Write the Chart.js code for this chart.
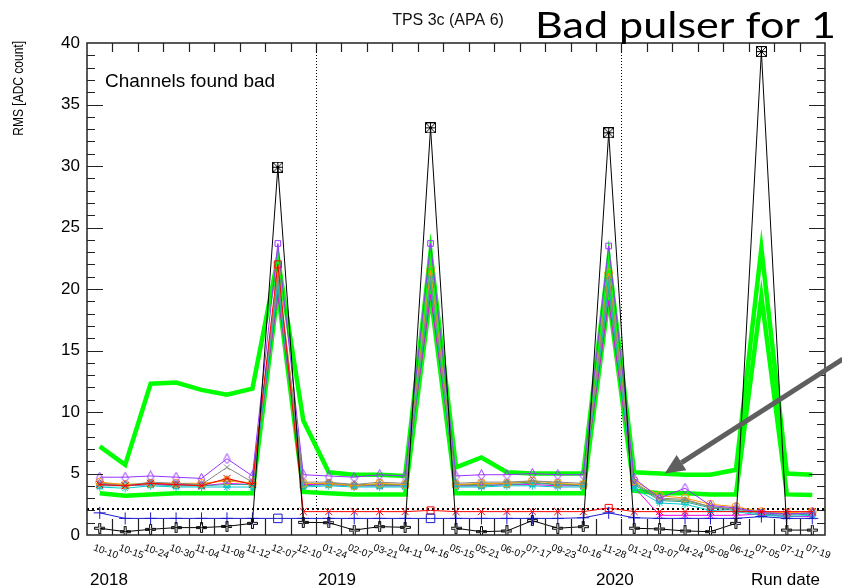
<!DOCTYPE html>
<html lang="en">
<head>
<meta charset="UTF-8">
<title>TPS 3c (APA 6) - Channels found bad</title>
<script src="https://cdn.jsdelivr.net/npm/chart.js"></script>
<style>
  body { margin: 0; background: #fff; }
  #wrap { width: 842px; height: 586px; }
</style>
</head>
<body>
<div id="wrap"><canvas id="rmsChart" width="842" height="586"></canvas></div>
<script>
// run dates (category axis)
const runDates = ['10-10','10-15','10-24','10-30','11-04','11-08','11-12','12-07','12-10',
                  '01-24','02-07','03-21','04-11','04-16','05-15','05-21','06-07','07-17','09-23','10-16','11-28',
                  '01-21','03-07','04-24','05-08','06-12','07-05','07-11','07-19'];
const yearLabels = ['2018', '2019', '2020'];
const yTicks = [0, 5, 10, 15, 20, 25, 30, 35, 40];

// RMS [ADC count] per channel
const blackRms   = [0.55,0.27,0.46,0.6,0.6,0.7,0.95, 29.9, 1.03,1.0,0.4,0.68,0.62, 33.1, 0.55,0.27,0.33,1.17,0.55,0.68, 32.7, 0.55,0.49,0.33,0.27,0.95, 39.3, 0.4,0.4];
const blueRms    = [1.8,1.35,1.35,1.35,1.35,1.35,1.35, 1.35, 1.35,1.35,1.35,1.35,1.35, 1.35, 1.35,1.35,1.35,1.35,1.35,1.4, 1.8, 1.4,1.35,1.35,1.35,1.35, 1.5, 1.35,1.35];
const redRms     = [4.1,4.0,4.2,4.1,4.0,4.6,4.1, 22.0, 1.9,1.9,1.9,1.9,1.9, 2.0, 1.9,1.9,1.9,1.9,1.9,1.9, 2.2, 1.9,1.9,1.9,1.9,1.9, 1.9, 1.9,1.9];
const purpleRms  = [4.7,4.7,4.8,4.7,4.6,6.2,4.8, 23.7, 4.9,4.8,4.7,4.9,4.8, 23.7, 4.8,4.9,4.9,5.0,4.9,4.9, 23.5, 4.6,3.0,3.8,2.4,2.2, 1.8, 1.7,1.8];
const grayRms    = [4.2,4.0,4.3,4.2,4.1,5.5,4.3, 21.0, 4.3,4.3,4.1,4.3,4.2, 21.0, 4.2,4.3,4.3,4.4,4.3,4.2, 21.0, 4.3,3.0,2.9,2.3,2.1, 1.9, 1.7,1.8];
const orangeRms  = [4.3,4.1,4.2,4.2,4.2,4.4,4.2, 21.5, 4.2,4.2,4.0,4.2,4.1, 21.5, 4.1,4.2,4.2,4.4,4.2,4.1, 21.3, 4.4,3.2,3.0,2.5,2.3, 1.9, 1.8,1.9];
const cyanRms    = [3.9,3.8,4.0,3.9,3.9,3.9,3.9, 20.5, 3.9,4.0,3.9,3.9,3.9, 20.8, 3.9,3.9,4.0,4.0,3.9,3.9, 20.5, 3.8,2.6,2.5,2.0,1.9, 1.6, 1.5,1.6];
const tealRms    = [4.0,4.0,4.1,4.0,4.0,4.1,4.1, 20.0, 4.0,4.1,4.0,4.0,4.0, 20.3, 4.0,4.0,4.1,4.2,4.1,4.0, 20.0, 4.1,2.8,2.7,2.2,2.0, 1.7, 1.6,1.7];
const magentaRms = [4.1,4.0,4.1,4.1,4.0,4.2,4.1, 19.5, 4.1,4.1,4.0,4.0,4.0, 19.5, 4.0,4.0,4.1,4.1,4.0,4.0, 19.0, 3.9,1.6,1.6,1.6,1.6, 1.7, 1.5,1.5];
const olivRms    = [4.2,4.1,4.2,4.1,4.1,4.5,4.2, 20.8, 4.1,4.2,4.1,4.1,4.1, 21.0, 4.1,4.1,4.2,4.3,4.1,4.1, 20.8, 4.2,2.9,2.8,2.3,2.1, 1.8, 1.7,1.8];
const greenHiRms = [7.2,5.7,12.3,12.4,11.8,11.4,11.9, 22.5, 9.3,5.1,4.9,4.9,4.8, 23.0, 5.5,6.3,5.1,5.0,5.0,5.0, 22.5, 5.1,5.0,4.9,4.9,5.3, 23.3, 5.0,4.9];
const greenLoRms = [3.4,3.2,3.3,3.4,3.4,3.4,3.4, 19.8, 3.5,3.4,3.3,3.3,3.3, 19.5, 3.4,3.4,3.4,3.4,3.4,3.4, 19.3, 3.6,3.4,3.4,3.3,3.3, 19.4, 3.3,3.25];

const badThreshold = 2.1;
const yearBreaks = [8.5, 20.5];
const yearPos = [-0.38, 8.58, 19.5];      // category position of each year label
const runDatePos = 28.3;
const arrowFrom = [29.2, 14.3];           // [category, RMS]
const arrowTo = [22.2, 5.0];

const FONT = '"Liberation Sans", Arial, Helvetica, sans-serif';

// ROOT-like open markers drawn on small canvases
function marker(kind, color, s) {
  const c = document.createElement('canvas');
  c.width = c.height = s;
  const g = c.getContext('2d');
  g.strokeStyle = color;
  g.lineWidth = 1;
  const m = s - 0.5, a = Math.round(s * 0.35) + 0.5, b = s - a;
  g.beginPath();
  if (kind === 'cross') {
    g.moveTo(a, 0.5); g.lineTo(b, 0.5); g.lineTo(b, a); g.lineTo(m, a); g.lineTo(m, b); g.lineTo(b, b);
    g.lineTo(b, m); g.lineTo(a, m); g.lineTo(a, b); g.lineTo(0.5, b); g.lineTo(0.5, a); g.lineTo(a, a);
    g.closePath();
  } else if (kind === 'boxx') {
    g.rect(0.5, 0.5, s - 1, s - 1);
    g.moveTo(0.5, 0.5); g.lineTo(m, m); g.moveTo(m, 0.5); g.lineTo(0.5, m);
    g.moveTo(s / 2, 0.5); g.lineTo(s / 2, m); g.moveTo(0.5, s / 2); g.lineTo(m, s / 2);
  } else if (kind === 'diamond') {
    g.moveTo(s / 2, 0.5); g.lineTo(s * 0.8, s * 0.6); g.lineTo(s / 2, m); g.lineTo(s * 0.2, s * 0.6);
    g.closePath();
  }
  g.stroke();
  return c;
}

// peak points (bad pulser) get a square marker
function styles(data, normal, peak) {
  return data.map(v => (v > 15 ? peak : normal));
}

function series(label, data, color, pointStyle, extra) {
  return Object.assign({
    label, data,
    borderColor: color, borderWidth: 1,
    pointStyle, pointRadius: 4,
    pointBorderColor: color, pointBackgroundColor: 'rgba(0,0,0,0)', pointBorderWidth: 1,
    tension: 0
  }, extra || {});
}

const datasets = [
  series('ch black', blackRms, '#000000', styles(blackRms, marker('cross', '#000', 11), marker('boxx', '#000', 11))),
  series('ch blue', blueRms, '#1a1acc', blueRms.map((v, i) => (i === 7 || i === 13) ? 'rect' : 'cross'), {pointRadius: 6}),
  series('ch red', redRms, '#ff0000', redRms.map((v, i) => (i === 7 || i === 13 || i === 20) ? 'rect' : 'crossRot'), {pointRadius: 5}),
  series('ch violet', purpleRms, '#9933ff', styles(purpleRms, marker('diamond', '#9933ff', 11), 'rect').map((s, i) => i === 26 ? 'rect' : s)),
  series('ch gray', grayRms, '#888888', 'crossRot'),
  series('ch orange', orangeRms, '#ff9900', 'circle'),
  series('ch cyan', cyanRms, '#00cccc', 'star'),
  series('ch teal', tealRms, '#2a9d9d', 'rect'),
  series('ch magenta', magentaRms, '#ee00ee', 'crossRot'),
  series('ch olive', olivRms, '#669933', 'triangle'),
  series('ch green a', greenHiRms, '#00ff00', 'circle', {borderWidth: 4.5, pointRadius: 0}),
  series('ch green b', greenLoRms, '#00ff00', 'circle', {borderWidth: 4.5, pointRadius: 0})
];

const rootStyle = {
  id: 'rootStyle',
  beforeDatasetsDraw(chart) {
    const {ctx, chartArea: a, scales: {x, y}} = chart;
    ctx.save();
    ctx.strokeStyle = '#000';
    ctx.lineWidth = 1;
    ctx.setLineDash([1, 2]);
    yearBreaks.forEach(v => {
      const px = Math.round(x.getPixelForValue(v)) + 0.5;
      ctx.beginPath(); ctx.moveTo(px, a.top); ctx.lineTo(px, a.bottom); ctx.stroke();
    });
    ctx.lineWidth = 1.8;
    ctx.setLineDash([2, 3]);
    const py = Math.round(y.getPixelForValue(badThreshold));
    ctx.beginPath(); ctx.moveTo(a.left, py); ctx.lineTo(a.right, py); ctx.stroke();
    ctx.restore();
  },
  afterDraw(chart) {
    const {ctx, chartArea: a, scales: {x, y}} = chart;
    ctx.save();
    // frame + ticks (inside, ROOT style)
    ctx.strokeStyle = '#222';
    ctx.lineWidth = 1.5;
    ctx.strokeRect(a.left, a.top, a.right - a.left, a.bottom - a.top);
    ctx.lineWidth = 1.2;
    ctx.beginPath();
    for (let v = 1; v < 40; v++) {
      const py = Math.round(y.getPixelForValue(v)) + 0.5;
      const len = v % 5 === 0 ? 16 : 8;
      ctx.moveTo(a.left, py); ctx.lineTo(a.left + len, py);
      ctx.moveTo(a.right, py); ctx.lineTo(a.right - len, py);
    }
    for (let i = 1; i < runDates.length; i++) {
      const px = Math.round(x.getPixelForValue(i - 0.5)) + 0.5;
      ctx.moveTo(px, a.bottom); ctx.lineTo(px, a.bottom - 16);
      ctx.moveTo(px, a.top); ctx.lineTo(px, a.top + 9);
    }
    ctx.stroke();

    // rotated run-date labels
    ctx.fillStyle = '#000';
    ctx.font = '10px ' + FONT;
    ctx.textAlign = 'left';
    ctx.textBaseline = 'alphabetic';
    runDates.forEach((lab, i) => {
      ctx.save();
      ctx.translate(x.getPixelForValue(i) - 7, a.bottom + 15);
      ctx.rotate(20 * Math.PI / 180);
      ctx.fillText(lab, 0, 0);
      ctx.restore();
    });

    // years and axis title
    ctx.font = '17px ' + FONT;
    yearLabels.forEach((t, i) => ctx.fillText(t, x.getPixelForValue(yearPos[i]), 585));
    ctx.textAlign = 'right';
    ctx.fillText('Run date', x.getPixelForValue(runDatePos), 585);

    ctx.save();
    ctx.font = '15px ' + FONT;
    ctx.translate(23, a.top - 2);
    ctx.rotate(-Math.PI / 2);
    ctx.scale(0.8, 1);
    ctx.textAlign = 'right';
    ctx.fillText('RMS [ADC count]', 0, 0);
    ctx.restore();

    // titles
    ctx.textAlign = 'center';
    ctx.font = '16px ' + FONT;
    ctx.fillStyle = '#111';
    ctx.fillText('TPS 3c (APA 6)', 448, 25);
    ctx.textAlign = 'left';
    ctx.fillStyle = '#000';
    ctx.font = '19px ' + FONT;
    ctx.fillText('Channels found bad', a.left + 18, 87);

    ctx.save();
    ctx.font = '36px Lato, "Open Sans", sans-serif';
    const w = ctx.measureText('Bad pulser for 1').width;
    ctx.translate(535, 38);
    ctx.scale(301 / w, 1);
    ctx.fillText('Bad pulser for 1', 0, 0);
    ctx.restore();

    // arrow
    const x0 = x.getPixelForValue(arrowFrom[0]), y0 = y.getPixelForValue(arrowFrom[1]);
    const x1 = x.getPixelForValue(arrowTo[0]), y1 = y.getPixelForValue(arrowTo[1]);
    const ang = Math.atan2(y1 - y0, x1 - x0);
    const head = 20, half = 9;
    const bx = x1 - head * Math.cos(ang), by = y1 - head * Math.sin(ang);
    ctx.strokeStyle = '#5f5f5f';
    ctx.fillStyle = '#5f5f5f';
    ctx.lineWidth = 5;
    ctx.beginPath(); ctx.moveTo(x0, y0); ctx.lineTo(bx, by); ctx.stroke();
    ctx.beginPath();
    ctx.moveTo(x1, y1);
    ctx.lineTo(bx + half * Math.sin(ang), by - half * Math.cos(ang));
    ctx.lineTo(bx - half * Math.sin(ang), by + half * Math.cos(ang));
    ctx.closePath();
    ctx.fill();
    ctx.restore();
  }
};

new Chart(document.getElementById('rmsChart'), {
  type: 'line',
  data: { labels: runDates, datasets },
  options: {
    responsive: false,
    animation: false,
    layout: { padding: { top: 43, right: 17, left: 0, bottom: 0 } },
    plugins: { legend: { display: false }, tooltip: { enabled: false }, title: { display: false } },
    scales: {
      x: {
        offset: true,
        grid: { display: false, drawTicks: false },
        border: { display: false },
        ticks: { display: false },
        afterFit(s) { s.height = 51; }
      },
      y: {
        min: 0, max: 40,
        afterBuildTicks(s) { s.ticks = yTicks.map(v => ({ value: v })); },
        grid: { display: false, drawTicks: false },
        border: { display: false },
        ticks: { padding: 7, color: '#000', font: { size: 17, family: FONT } },
        afterFit(s) { s.width = 87; }
      }
    }
  },
  plugins: [rootStyle]
});
</script>
</body>
</html>
